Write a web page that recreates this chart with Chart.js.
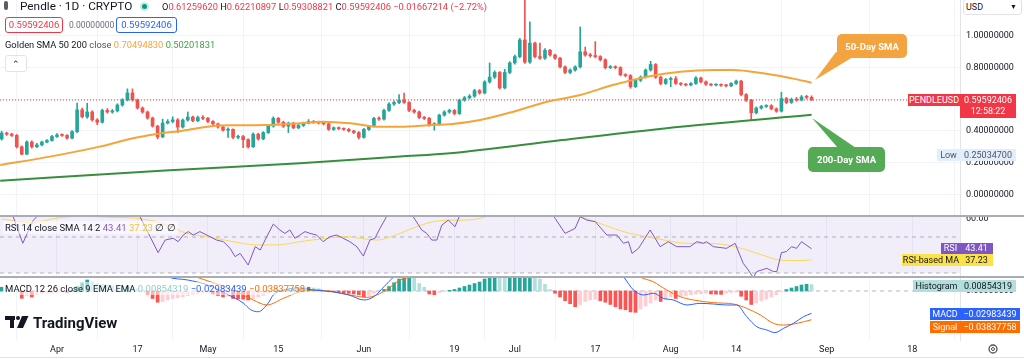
<!DOCTYPE html>
<html>
<head>
<meta charset="utf-8">
<script src="https://cdn.jsdelivr.net/npm/chart.js@4"></script>
<style>
  body { margin:0; width:1024px; height:359px; overflow:hidden; background:#fff; position:relative;
         font-family: Roboto, "Liberation Sans", sans-serif; color:#131722; }
  .pane { position:absolute; left:0; width:1024px; }
  .ov { position:absolute; white-space:nowrap; }
  .tag { position:absolute; font-size:9px; text-align:center; white-space:nowrap; }
  .r { color:#f23645; }
</style>
</head>
<body>

<div class="pane" style="top:0;height:215px"><canvas id="price"></canvas></div>
<div class="pane" style="top:217px;height:59px"><canvas id="rsi"></canvas></div>
<div class="pane" style="top:278px;height:81px"><canvas id="macd"></canvas></div>

<!-- pane separators -->
<div class="ov" style="left:0;top:215px;width:1024px;height:2px;background:#a9acb5"></div>
<div class="ov" style="left:0;top:276px;width:1024px;height:2px;background:#a9acb5"></div>
<div class="ov" style="left:0;top:357px;width:1024px;height:1px;background:#e0e3eb"></div>

<!-- header -->
<div class="ov" style="left:4px;top:1px;width:4px;height:9px;border-radius:2px;background:#5a5e6a"></div>
<div class="ov" style="left:20px;top:0px;font-size:11.8px;line-height:13px">Pendle · 1D · CRYPTO</div>
<div class="ov" style="left:140px;top:2px;width:9px;height:9px;border-radius:50%;background:#c8ebe4"></div>
<div class="ov" style="left:142px;top:4px;width:5px;height:5px;border-radius:50%;background:#089981"></div>
<div class="ov" style="left:162px;top:0px;font-size:9.3px;line-height:13px">O<span class="r">0.61259620</span> H<span class="r">0.62210897</span> L<span class="r">0.59308821</span> C<span class="r">0.59592406</span> <span class="r">−0.01667214 (−2.72%)</span></div>

<div class="ov" style="left:5px;top:17px;width:56px;height:14px;border:1px solid #f23645;border-radius:3px;font-size:9.5px;line-height:14px;text-align:center;color:#f23645">0.59592406</div>
<div class="ov" style="left:69px;top:19px;font-size:8.5px;line-height:12px;color:#6a6d78">0.00000000</div>
<div class="ov" style="left:116px;top:17px;width:59px;height:14px;border:1px solid #2962ff;border-radius:3px;font-size:9.5px;line-height:14px;text-align:center;color:#2962ff">0.59592406</div>

<div class="ov" style="left:5px;top:39px;font-size:9.3px;line-height:12px">Golden SMA 50 200 <span style="color:#555">close</span> <span style="color:#f5a43a">0.70494830</span> <span style="color:#43a047">0.50201831</span></div>
<div class="ov" style="left:5px;top:55px;width:20px;height:15px;border:1px solid #e0e3eb;border-radius:3px;background:#fff;font-size:9px;line-height:17px;text-align:center">&#8963;</div>

<!-- indicator titles -->
<div class="ov" style="left:3px;top:221px;font-size:9.5px;line-height:13px;background:rgba(255,255,255,0.55);padding:0 2px">RSI 14 close SMA 14 2 <span style="color:#7e57c2">43.41</span> <span style="color:#e9c53a">37.23</span> ∅ ∅</div>
<div class="ov" style="left:3px;top:282px;font-size:9.5px;line-height:13px;background:rgba(255,255,255,0.55);padding:0 2px">MACD 12 26 close 9 EMA EMA <span style="color:#8fd0c8">0.00854319</span> <span style="color:#2962ff">−0.02983439</span> <span style="color:#ff6d00">−0.03837758</span></div>

<!-- right side tags -->
<div class="ov" style="left:963px;top:-1px;width:55px;height:14px;border:1px solid #e0e3eb;border-radius:3px;background:#fff;font-size:9px;line-height:14px;padding-left:2px">USD<span style="position:absolute;right:4px;font-size:7px">▼</span></div>
<div class="tag" style="left:908px;top:94px;width:52px;height:12px;line-height:12px;background:#f23645;color:#fff">PENDLEUSD</div>
<div class="tag" style="left:960px;top:94px;width:56px;height:23px;line-height:11px;background:#f23645;color:#fff;padding-top:1px">0.59592406<br>12:58:22</div>
<div class="tag" style="left:937px;top:149px;width:23px;height:12px;line-height:12px;background:#e3eefc;color:#50535e">Low</div>
<div class="tag" style="left:960px;top:149px;width:56px;height:12px;line-height:12px;background:#e3eefc;color:#50535e">0.25034700</div>
<div class="tag" style="left:941px;top:243px;width:19px;height:11px;line-height:11px;background:#7e57c2;color:#fff">RSI</div>
<div class="tag" style="left:960px;top:243px;width:33px;height:11px;line-height:11px;background:#7e57c2;color:#fff">43.41</div>
<div class="tag" style="left:902px;top:254px;width:58px;height:12px;line-height:12px;background:#fbe14a;color:#131722">RSI-based MA</div>
<div class="tag" style="left:960px;top:254px;width:33px;height:12px;line-height:12px;background:#fbe14a;color:#131722">37.23</div>
<div class="tag" style="left:913px;top:280px;width:47px;height:12px;line-height:12px;background:#b2dfdb;color:#131722">Histogram</div>
<div class="tag" style="left:960px;top:280px;width:56px;height:12px;line-height:12px;background:#b2dfdb;color:#131722">0.00854319</div>
<div class="tag" style="left:930px;top:308px;width:30px;height:12px;line-height:12px;background:#2962ff;color:#fff">MACD</div>
<div class="tag" style="left:960px;top:308px;width:60px;height:12px;line-height:12px;background:#2962ff;color:#fff">−0.02983439</div>
<div class="tag" style="left:930px;top:321px;width:30px;height:12px;line-height:12px;background:#ff6d00;color:#fff">Signal</div>
<div class="tag" style="left:960px;top:321px;width:60px;height:12px;line-height:12px;background:#ff6d00;color:#fff">−0.03837758</div>

<!-- callouts, logo, settings -->
<svg class="ov" style="left:0;top:0" width="1024" height="359">
  <polygon points="836,52 853,57 815,80" fill="#f3a33f"/>
  <rect x="837" y="34" width="70" height="24" rx="5" fill="#f3a33f"/>
  <text x="872" y="49.5" font-size="9.5" font-weight="bold" fill="#fff" text-anchor="middle" font-family="Roboto">50-Day SMA</text>
  <polygon points="838,148 856,148 812,118" fill="#55aa55"/>
  <rect x="808" y="147" width="77" height="25" rx="5" fill="#55aa55"/>
  <text x="846.5" y="163" font-size="9.5" font-weight="bold" fill="#fff" text-anchor="middle" font-family="Roboto">200-Day SMA</text>
  <rect x="5" y="316" width="10" height="4" fill="#131722"/>
  <rect x="10" y="316" width="4" height="12" fill="#131722"/>
  <circle cx="18" cy="318" r="2" fill="#131722"/>
  <polygon points="22,316 28.5,316 23,328 17,328" fill="#131722"/>
  <text x="33" y="327.5" font-size="15" font-weight="bold" fill="#131722" font-family="Roboto">TradingView</text>
  <circle cx="993" cy="349" r="4" fill="none" stroke="#50535e" stroke-width="1.3"/>
  <circle cx="993" cy="349" r="1.5" fill="none" stroke="#50535e" stroke-width="1"/>
</svg>

<script>
// day 0 = 1 Apr 2023, first candle = 21 Mar 2023 (day -11), last = 29 Aug 2023 (day 150)
const firstDay = -11;
const tickDays = [0, 16, 30, 44, 61, 79, 91, 107, 122, 135, 153, 170];
const tickLabels = ['Apr', '17', 'May', '15', 'Jun', '19', 'Jul', '17', 'Aug', '14', 'Sep', '18'];
const priceTicks = [0, 0.2, 0.4, 0.6, 0.8, 1.0];

const opens = [
  .350,.387,.380,.372,.300,.253,.330,.300,.312,.330,.340,
  .365,.375,.372,.355,.396,.533,.490,.520,.470,.455,
  .530,.520,.527,.564,.596,.640,.596,.545,.520,.482,
  .431,.362,.450,.460,.470,.425,.469,.488,.465,.485,
  .480,.460,.445,.425,.405,.410,.360,.365,.345,.300,
  .380,.350,.390,.430,.480,.455,.430,.450,.420,.435,
  .450,.460,.455,.450,.445,.410,.420,.415,.410,.400,
  .390,.360,.410,.430,.480,.475,.530,.570,.580,.595,
  .580,.530,.520,.485,.480,.440,.445,.500,.520,.530,
  .510,.595,.610,.620,.655,.640,.710,.740,.770,.672,
  .770,.830,.870,.975,.835,.955,.870,.860,.910,.880,
  .860,.805,.770,.785,.805,.900,.880,.875,.870,.850,
  .800,.805,.800,.755,.750,.680,.720,.740,.785,.820,
  .740,.700,.725,.730,.700,.695,.690,.700,.735,.710,
  .695,.690,.692,.688,.685,.700,.715,.630,.595,.515,
  .545,.555,.560,.540,.525,.605,.580,.600,.595,.615,.6126
];
const closes = [
  .387,.380,.372,.300,.253,.330,.300,.312,.330,.340,.365,
  .375,.372,.355,.396,.533,.490,.520,.470,.455,.530,
  .520,.527,.564,.596,.640,.596,.545,.520,.482,.431,
  .362,.450,.460,.470,.425,.469,.488,.465,.485,.480,
  .460,.445,.425,.405,.410,.360,.365,.345,.300,.380,
  .350,.390,.430,.480,.455,.430,.450,.420,.435,.450,
  .460,.455,.450,.445,.410,.420,.415,.410,.400,.390,
  .360,.410,.430,.480,.475,.530,.570,.580,.595,.580,
  .530,.520,.485,.480,.440,.445,.500,.520,.530,.510,
  .595,.610,.620,.655,.640,.710,.740,.770,.672,.770,
  .830,.870,.975,.835,.955,.870,.860,.910,.880,.860,
  .805,.770,.785,.805,.900,.880,.875,.870,.850,.800,
  .805,.800,.755,.750,.680,.720,.740,.785,.820,.740,
  .700,.725,.730,.700,.695,.690,.700,.735,.710,.695,
  .690,.692,.688,.685,.700,.715,.630,.595,.515,.545,
  .555,.560,.540,.525,.605,.580,.600,.595,.615,.6126,.59592406
];
const highs = [
  .398,.392,.386,.378,.306,.338,.338,.322,.336,.346,.372,
  .384,.382,.378,.402,.577,.545,.575,.528,.478,.538,
  .542,.536,.572,.604,.666,.666,.602,.552,.526,.488,
  .436,.475,.472,.490,.478,.476,.520,.494,.494,.498,
  .486,.466,.450,.430,.420,.414,.374,.372,.350,.388,
  .386,.396,.436,.490,.486,.462,.456,.456,.442,.456,
  .472,.466,.462,.456,.450,.426,.426,.420,.416,.405,
  .396,.416,.436,.486,.490,.538,.580,.590,.630,.640,
  .586,.538,.526,.492,.486,.452,.506,.528,.538,.536,
  .602,.618,.630,.664,.662,.718,.830,.780,.776,.790,
  .838,.880,.985,1.250,1.090,.962,.955,.920,.916,.886,
  .866,.812,.792,.812,1.057,.930,.890,.965,.876,.856,
  .814,.812,.806,.762,.756,.728,.748,.792,.840,.826,
  .746,.732,.740,.744,.706,.700,.706,.744,.740,.716,
  .700,.698,.698,.694,.706,.722,.720,.636,.600,.552,
  .562,.566,.566,.546,.645,.612,.608,.612,.624,.626,.62210897
];
const lows = [
  .342,.372,.365,.292,.2503,.252,.292,.294,.306,.325,.335,
  .360,.366,.348,.350,.390,.482,.480,.462,.440,.450,
  .512,.512,.520,.556,.590,.588,.538,.512,.474,.424,
  .350,.358,.444,.452,.390,.418,.462,.458,.458,.472,
  .452,.438,.418,.398,.360,.352,.352,.295,.292,.296,
  .342,.344,.384,.424,.448,.422,.390,.414,.414,.428,
  .444,.448,.444,.438,.404,.404,.408,.404,.394,.384,
  .350,.354,.404,.424,.466,.468,.524,.562,.572,.574,
  .522,.512,.478,.472,.430,.405,.438,.494,.512,.502,
  .504,.588,.602,.612,.632,.634,.702,.732,.664,.666,
  .762,.822,.862,.826,.826,.862,.852,.852,.872,.852,
  .798,.762,.762,.778,.798,.872,.866,.862,.842,.792,
  .794,.792,.748,.742,.670,.674,.712,.734,.778,.732,
  .692,.694,.680,.694,.688,.684,.684,.694,.704,.688,
  .684,.684,.682,.678,.680,.694,.622,.586,.470,.508,
  .538,.548,.534,.518,.520,.572,.574,.588,.590,.604,.59308821
];

const sma50Day = [-11.3,-1.4,8.5,15.1,19.9,25,31,35,41.7,48.3,52.9,58.3,63.6,68.2,74.8,78.1,84.1,90.7,97.4,104,110.5,117.3,123.9,130.4,134.4,140.4,147.1,150];
const sma50Val = [.185,.238,.301,.354,.381,.402,.431,.436,.438,.449,.459,.449,.427,.427,.438,.442,.469,.522,.585,.627,.690,.743,.774,.785,.785,.764,.726,.70494830];
const sma200Day = [-11.3,21.5,48.3,68.2,78.1,100.4,118.9,150];
const sma200Val = [.086,.150,.196,.238,.259,.343,.410,.50201831];

const rsiDay = [-11,-8.7,-6.8,-4.7,-3,0,4,10,14,16.5,20.1,21.5,23.1,24.1,25.1,26.1,27.1,28.4,30.4,31.7,33.1,34.4,35.4,36.4,38,39.4,40.4,41.7,43,44.3,45.3,46.3,47.3,48.3,49.3,50.3,51.6,52.9,54.3,55.6,56.9,58.2,59.6,60.9,62.2,63.2,64.2,65.5,67,69,70.8,72.5,73.5,74.5,75.5,76.5,77.8,79.1,80.1,82,86,90,94,97,99,101,103,104,105.3,107,109.3,111.3,112.6,113.6,114.3,115.6,117.9,119.9,121.5,123.2,125.8,127.2,128.5,129.1,130.5,133.1,134.8,136.4,137.4,138.4,139.1,141.1,142.4,143.1,144,145,146,147,148,150];
const rsiVal = [64,61.3,46.5,59.4,64,63,73,70,74,61.3,41.3,48.3,49.3,47.4,51.1,53,51.1,53,50.2,48.3,47.4,43.7,39.1,40.9,34.4,44.6,42.8,50.2,57.2,53.9,52,53.9,49.3,51.1,53,52,51.1,47.4,50.2,51.1,49.3,47.4,44.6,39.4,48.3,49.3,54.8,61.3,66,68,61.3,53.9,52,48.3,48.3,56.6,59.4,55.7,62.2,65,72,76,74,68,60.4,52,54.8,61.3,59.4,58.5,51.1,51.1,46.5,47.4,40.9,43.7,53.9,44.6,47.4,44.6,44.6,47.4,46.5,47.4,44.6,43.7,46.5,35.4,31.7,27.5,30.8,32.6,30.8,30.8,41.3,41.9,44.6,43.7,47.4,43.41];
const rsiMaDay = [-11,-5,0,5,10,17,21.8,25.8,29.8,35,39.7,43.7,48.3,53.6,57.6,60.2,63.6,65.5,68.2,71.5,74.8,78.1,81.4,84.1,88.1,92,98,104,107,110.6,113.9,117.3,121.3,125.2,129.1,133.1,137.1,141.1,143.7,147,150];
const rsiMaVal = [60,58,60.5,61.5,61,60,56.7,52,50.2,47.4,45.6,45.6,47.4,49.3,50.2,49.3,48.3,49.3,52,55.7,58.5,59.4,59.4,60.4,64.1,67,68,61.3,58.5,54.8,52,50.2,48,46.5,46.5,45.6,42.8,39.1,37.2,36.9,37.23];

const histVal = [
  .005,.004,.003,.001,-.0098,-.006,-.008,-.005,-.004,-.003,-.003,
  -.002,-.001,-.002,.001,.006,.011,.0147,.012,.010,.009,
  .008,.007,.006,.005,.006,.005,.003,.001,-.005,-.010,
  -.015,-.014,-.012,-.010,-.009,-.008,-.006,-.005,-.004,-.003,
  -.002,-.004,-.006,-.008,-.007,-.010,-.0105,-.011,-.012,-.010,
  -.008,-.006,-.003,-.001,.001,.0012,.002,.0022,.003,.004,
  .005,.004,.003,.001,-.0005,-.001,-.002,-.003,-.0032,-.004,
  -.005,-.008,-.006,-.003,-.001,.002,.006,.011,.016,.020,
  .022,.017,.010,.005,-.004,-.005,-.002,-.001,.001,.002,
  .004,.006,.008,.010,.012,.016,.019,.022,.018,.017,
  .020,.024,.028,.030,.031,.024,.016,.009,.002,-.003,
  -.008,-.013,-.017,-.021,-.018,-.014,-.012,-.011,-.013,-.015,
  -.018,-.021,-.024,-.025,-.028,-.0285,-.024,-.020,-.016,-.012,
  -.014,-.011,-.008,-.010,-.007,-.006,-.005,-.004,-.0038,-.003,
  -.004,-.0042,-.0045,-.003,-.002,-.0015,-.007,-.012,-.018,-.016,
  -.013,-.011,-.008,-.005,-.001,.002,.004,.006,.008,.009,.00854319
];
const macdDay = [-11,-5,0,5,10,15,20,22,26,30,34,37,38.5,40,42,43,45,48,51,55,58,61,63,65,67,70,73,75,77,80,85,90,95,100,105,110,112.6,114.6,116.6,118.6,120.5,122.5,125.2,127.8,130.5,133.1,135.1,137.1,139.1,141.1,142.7,144.4,146.4,148.4,150];
const macdVal = [.028,.024,.022,.03,.04,.04,.028,.019,.0147,.008,-.005,-.016,-.025,-.0277,-.016,-.0053,.0013,.004,.0013,-.0013,-.0053,-.012,-.0076,.0058,.019,.03,.022,.018,.02,.03,.05,.075,.09,.075,.055,.035,.019,.0013,-.0053,-.003,-.0098,-.012,-.0187,-.0165,-.0174,-.0187,-.0187,-.0343,-.0477,-.0521,-.0557,-.05,-.0432,-.0343,-.02983439];
const signalDay = [-11,0,10,20,27,30.4,35,39,41.7,45,48.3,51.6,54.9,58.2,61.6,64.9,68.2,70.8,75,80,85,90,95,100,105,110,115.9,118.5,121.2,123.9,126.5,130.5,134.5,137.1,139.8,142.4,144.4,147.1,150];
const signalVal = [.03,.025,.026,.032,.02,.0125,.0013,-.012,-.0187,-.0098,-.001,.0013,-.001,-.0053,-.0085,-.001,.0147,.019,.024,.026,.035,.05,.065,.075,.07,.058,.019,.0125,.0013,-.0076,-.012,-.0156,-.0174,-.0232,-.032,-.0432,-.0455,-.0432,-.03837758];

const xMin = -11.33, xMax = 179.5;
const UP = '#26a69a', DOWN = '#ef5350';
const GRID = '#f0f3fa';

const pts = (xs, ys) => xs.map((x, i) => ({ x: x, y: ys[i] }));
const candleColors = opens.map((o, i) => closes[i] >= o ? UP : DOWN);
const bodies = opens.map((o, i) => ({ x: i + firstDay, y: [o, closes[i]] }));
const wicks = lows.map((l, i) => ({ x: i + firstDay, y: [l, highs[i]] }));
const lastClose = closes[closes.length - 1];

function xScale(showLabels) {
  return {
    type: 'linear', min: xMin, max: xMax, offset: false,
    grid: { color: GRID, drawTicks: false },
    border: { display: false },
    afterBuildTicks: a => { a.ticks = tickDays.map(v => ({ value: v })); },
    afterFit: a => { a.height = showLabels ? 19 : 0; a.paddingLeft = 0; a.paddingRight = 0; },
    ticks: {
      display: showLabels, autoSkip: false, maxRotation: 0, padding: 4,
      color: '#131722', font: { family: 'Roboto', size: 9 },
      callback: (v, i) => tickLabels[i]
    }
  };
}

function yScale(min, max, ticks, digits, showGrid) {
  return {
    position: 'right', min: min, max: max,
    grid: { display: showGrid, color: GRID, drawTicks: false },
    border: { display: true, color: '#e0e3eb' },
    afterBuildTicks: a => { a.ticks = ticks.map(v => ({ value: v })); },
    afterFit: a => { a.width = 64; a.paddingTop = 0; a.paddingBottom = 0; },
    ticks: {
      padding: 6, color: '#131722', font: { family: 'Roboto', size: 9 },
      callback: v => Number(v).toFixed(digits)
    }
  };
}

const base = {
  responsive: true, maintainAspectRatio: false, animation: false,
  layout: { padding: 0 },
  plugins: { legend: { display: false }, tooltip: { enabled: false } }
};

// price pane
new Chart(document.getElementById('price'), {
  type: 'bar',
  data: {
    datasets: [
      { type: 'line', data: pts(sma50Day, sma50Val), borderColor: '#f5a43a', borderWidth: 2,
        pointRadius: 0, cubicInterpolationMode: 'monotone', order: 0 },
      { type: 'line', data: pts(sma200Day, sma200Val), borderColor: '#388e3c', borderWidth: 2,
        pointRadius: 0, cubicInterpolationMode: 'monotone', order: 0 },
      { data: bodies, backgroundColor: candleColors, barThickness: 3, grouped: false,
        minBarLength: 1, order: 1 },
      { data: wicks, backgroundColor: candleColors, barThickness: 1, grouped: false, order: 2 },
      { type: 'line', data: [{ x: xMin, y: lastClose }, { x: xMax, y: lastClose }],
        borderColor: '#f23645', borderWidth: 1, borderDash: [1, 2], pointRadius: 0, order: 3 }
    ]
  },
  options: Object.assign({}, base, {
    scales: { x: xScale(false), y: yScale(-0.1308, 1.2274, priceTicks, 8, true) }
  })
});

// RSI pane
new Chart(document.getElementById('rsi'), {
  type: 'line',
  data: {
    datasets: [
      { data: pts(rsiDay, rsiVal), borderColor: '#7e57c2', borderWidth: 1, pointRadius: 0, order: 0 },
      { data: pts(rsiMaDay, rsiMaVal), borderColor: '#f7d85a', borderWidth: 1, pointRadius: 0,
        cubicInterpolationMode: 'monotone', order: 1 },
      { data: [{ x: xMin, y: 50 }, { x: xMax, y: 50 }], borderColor: 'rgba(120,123,134,0.55)',
        borderWidth: 1, borderDash: [4, 4], pointRadius: 0, order: 2 },
      { data: [{ x: xMin, y: 30 }, { x: xMax, y: 30 }], borderColor: 'rgba(120,123,134,0.55)',
        borderWidth: 1, borderDash: [4, 4], pointRadius: 0, order: 3,
        fill: { value: 70 }, backgroundColor: 'rgba(126,87,194,0.1)' }
    ]
  },
  options: Object.assign({}, base, {
    scales: { x: xScale(false), y: yScale(28.33, 61.11, [60, 40], 2, false) }
  })
});

// MACD pane
const histColors = histVal.map((v, i) => {
  const prev = i > 0 ? histVal[i - 1] : v;
  if (v >= 0) return v >= prev ? '#26a69a' : '#b2dfdb';
  return v < prev ? '#ff5252' : '#ffcdd2';
});
new Chart(document.getElementById('macd'), {
  type: 'bar',
  data: {
    datasets: [
      { type: 'line', data: pts(macdDay, macdVal), borderColor: '#2962ff', borderWidth: 1,
        pointRadius: 0, cubicInterpolationMode: 'monotone', order: 0 },
      { type: 'line', data: pts(signalDay, signalVal), borderColor: '#ff6d00', borderWidth: 1,
        pointRadius: 0, cubicInterpolationMode: 'monotone', order: 1 },
      { data: histVal.map((v, i) => ({ x: i + firstDay, y: v })), backgroundColor: histColors,
        barThickness: 3, grouped: false, order: 2 },
      { type: 'line', data: [{ x: xMin, y: 0 }, { x: xMax, y: 0 }], borderColor: 'rgba(120,123,134,0.55)',
        borderWidth: 1, borderDash: [4, 4], pointRadius: 0, order: 3 }
    ]
  },
  options: Object.assign({}, base, {
    scales: { x: xScale(true), y: yScale(-0.0655, 0.01738, [0], 8, false) }
  })
});
</script>
</body>
</html>
